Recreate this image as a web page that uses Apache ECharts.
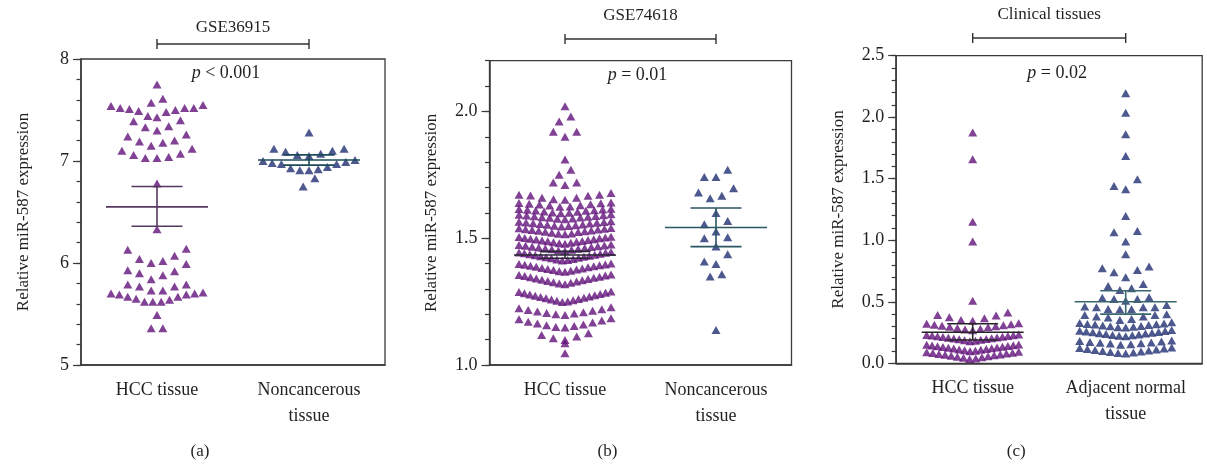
<!DOCTYPE html>
<html>
<head>
<meta charset="utf-8">
<style>
  html, body { margin: 0; padding: 0; background: #fff; }
  #main { width: 1207px; height: 466px; }
</style>
<script src="https://cdn.jsdelivr.net/npm/echarts@6/dist/echarts.min.js"></script>
</head>
<body>
<div id="main"></div>
<script>
// panel texts
const panelTitles = ['GSE36915', 'GSE74618', 'Clinical tissues']
const pTexts = ['< 0.001', '= 0.01', '= 0.02']
const panelTags = ['(a)', '(b)', '(c)']
const categories = [
  ['HCC tissue', 'Noncancerous\ntissue'],
  ['HCC tissue', 'Noncancerous\ntissue'],
  ['HCC tissue', 'Adjacent normal\ntissue']
]

// y axis ranges
const yMin = [5, 1.0, 0]
const yMax = [8, 2.2, 2.5]
const yMajor = [1, 0.5, 0.5]
const yMinor = [0.2, 0.1, 0.1]
const yDecimals = [0, 1, 1]

// values, one inner list per row of the dot plot
const hccA = [
  [7.75], [7.57, 7.61],
  [7.43, 7.44, 7.48, 7.49, 7.50, 7.51, 7.52, 7.52, 7.52, 7.54, 7.55],
  [7.30, 7.33, 7.34, 7.39, 7.40],
  [7.15, 7.18, 7.19, 7.20, 7.24, 7.26],
  [7.03, 7.03, 7.04, 7.06, 7.07, 7.10, 7.12],
  [6.78], [6.33],
  [6.00, 6.02, 6.04, 6.07, 6.13, 6.14],
  [5.84, 5.88, 5.90, 5.92, 5.93, 5.99],
  [5.73, 5.73, 5.77, 5.77, 5.79, 5.79],
  [5.62, 5.62, 5.62, 5.64, 5.65, 5.67, 5.67, 5.69, 5.69, 5.70, 5.70, 5.71],
  [5.49], [5.36, 5.36]
]
const nonA = [
  [7.28],
  [7.05, 7.06, 7.07, 7.09, 7.10, 7.12, 7.12],
  [6.91, 6.91, 6.92, 6.93, 6.94, 6.97, 6.97, 6.98, 6.99, 7.00, 7.01],
  [6.75, 6.83]
]
const hccB = [
  [2.02], [1.96, 1.98], [1.90, 1.92, 1.92], [1.81], [1.75, 1.77], [1.71, 1.72, 1.72],
  [1.652, 1.654, 1.660, 1.660, 1.667, 1.668, 1.671, 1.671, 1.678],
  [1.624, 1.625, 1.629, 1.630, 1.633, 1.634, 1.636, 1.638, 1.639, 1.641],
  [1.598, 1.600, 1.601, 1.604, 1.605, 1.608, 1.609, 1.610, 1.612, 1.613, 1.615, 1.616],
  [1.575, 1.577, 1.578, 1.581, 1.582, 1.583, 1.585, 1.587, 1.588, 1.590, 1.591, 1.593, 1.594],
  [1.546, 1.548, 1.549, 1.551, 1.553, 1.554, 1.556, 1.558, 1.559, 1.561, 1.562, 1.564, 1.565, 1.567],
  [1.516, 1.518, 1.519, 1.522, 1.524, 1.525, 1.527, 1.529, 1.530, 1.532, 1.534, 1.535, 1.537, 1.539, 1.540],
  [1.478, 1.480, 1.482, 1.484, 1.486, 1.488, 1.489, 1.491, 1.493, 1.495, 1.496, 1.498, 1.500, 1.501, 1.503, 1.505, 1.506],
  [1.450, 1.452, 1.454, 1.456, 1.458, 1.459, 1.461, 1.463, 1.465, 1.466, 1.468, 1.470, 1.471, 1.473, 1.475],
  [1.412, 1.414, 1.416, 1.418, 1.421, 1.423, 1.425, 1.427, 1.429, 1.431, 1.433, 1.435, 1.437, 1.439, 1.441, 1.443, 1.444, 1.446],
  [1.368, 1.370, 1.372, 1.375, 1.377, 1.379, 1.381, 1.383, 1.385, 1.387, 1.389, 1.391, 1.393, 1.395, 1.396, 1.398, 1.400],
  [1.318, 1.321, 1.324, 1.326, 1.329, 1.331, 1.334, 1.336, 1.339, 1.341, 1.344, 1.346, 1.348, 1.351, 1.353, 1.355, 1.357],
  [1.248, 1.250, 1.253, 1.255, 1.258, 1.260, 1.263, 1.265, 1.268, 1.270, 1.273, 1.275, 1.278, 1.280, 1.283, 1.285, 1.288, 1.290],
  [1.197, 1.200, 1.203, 1.205, 1.208, 1.211, 1.214, 1.217, 1.220, 1.224, 1.228],
  [1.148, 1.150, 1.154, 1.157, 1.160, 1.164, 1.168, 1.171, 1.175, 1.180, 1.184],
  [1.099, 1.105, 1.112, 1.118, 1.125],
  [1.086], [1.046]
]
const nonB = [
  [1.741, 1.741, 1.770],
  [1.658, 1.667, 1.680, 1.697],
  [1.599],
  [1.526, 1.555, 1.568],
  [1.467, 1.500, 1.504],
  [1.398, 1.408, 1.437],
  [1.349, 1.358],
  [1.138]
]
const hccC = [
  [1.875], [1.658], [1.151], [0.989], [0.509],
  [0.345, 0.352, 0.366, 0.374, 0.388, 0.393, 0.412],
  [0.268, 0.275, 0.281, 0.287, 0.292, 0.297, 0.301, 0.305, 0.309, 0.313, 0.318, 0.322, 0.326],
  [0.180, 0.184, 0.188, 0.191, 0.195, 0.198, 0.201, 0.204, 0.207, 0.210, 0.213, 0.216, 0.219, 0.222, 0.225, 0.228, 0.231, 0.234],
  [0.098, 0.102, 0.106, 0.110, 0.113, 0.117, 0.120, 0.123, 0.126, 0.129, 0.132, 0.135, 0.138, 0.141, 0.144, 0.147, 0.150, 0.153],
  [0.035, 0.040, 0.045, 0.050, 0.054, 0.058, 0.062, 0.066, 0.069, 0.072, 0.076, 0.080, 0.083, 0.086, 0.090, 0.093]
]
const adjC = [
  [2.195], [2.037], [1.862], [1.685], [1.415, 1.441, 1.496], [1.198],
  [0.989, 1.065, 1.076], [0.886],
  [0.699, 0.740, 0.758, 0.772, 0.786],
  [0.596, 0.610, 0.628, 0.644],
  [0.509, 0.522, 0.522, 0.533, 0.536],
  [0.439, 0.439, 0.442, 0.455, 0.455, 0.455, 0.461, 0.474],
  [0.352, 0.360, 0.372, 0.380, 0.380, 0.393, 0.393, 0.398],
  [0.290, 0.294, 0.298, 0.302, 0.304, 0.308, 0.312, 0.315, 0.318, 0.320, 0.324, 0.328, 0.333],
  [0.220, 0.224, 0.228, 0.231, 0.235, 0.238, 0.242, 0.245, 0.248, 0.252, 0.255, 0.258, 0.262, 0.265, 0.270],
  [0.150, 0.155, 0.160, 0.163, 0.167, 0.170, 0.174, 0.178, 0.182, 0.186],
  [0.080, 0.084, 0.088, 0.092, 0.096, 0.100, 0.104, 0.108, 0.112, 0.116, 0.120, 0.124, 0.128]
]
const groups = [[hccA, nonA], [hccB, nonB], [hccC, adjC]]

// mean with error bar ends: [mean, low, high] per group
const meanBars = [
  [[6.55, 6.36, 6.75], [7.01, 6.96, 7.06]],
  [[1.434, 1.421, 1.448], [1.542, 1.467, 1.619]],
  [[0.252, 0.189, 0.322], [0.50, 0.40, 0.59]]
]

const dotColors = ['#62117a', '#1f2e72']
const barColors = [['#54385f', '#1d4a58'], ['#2a2636', '#2a5664'], ['#262626', '#3a676d']]

// grid boxes of the three panels
const grids = [
  { left: 81, top: 59, width: 304, height: 306 },
  { left: 489.5, top: 60.7, width: 302, height: 304.3 },
  { left: 896.2, top: 55.7, width: 306, height: 307.6 }
]
const titleY = [28, 16, 15]
const bracketY = [44, 39, 38]
const pY = [73, 75, 73]
const pShift = [-7, -3, 8]

const fontFamily = 'Liberation Serif'
const textColor = '#231f20'
const lineColor = '#3a3a3a'

// dot plot layout: each row is spread sideways around its category
function spread(rows, cat, pxPerX) {
  const pts = []
  rows.forEach(row => {
    const vals = row.slice().sort((a, b) => a - b)
    const n = vals.length
    const d = n > 1 ? Math.min(11.7, 92 / (n - 1)) : 0
    vals.forEach((v, i) => {
      let k
      if (n % 2) k = Math.ceil(i / 2) * (i % 2 ? -1 : 1)
      else k = (Math.floor(i / 2) + 0.5) * (i % 2 ? 1 : -1)
      pts.push([cat + k * d / pxPerX, v])
    })
  })
  return pts
}

const xAxis = []
const yAxis = []
const series = []
grids.forEach((g, p) => {
  xAxis.push({
    gridIndex: p, type: 'category', data: categories[p], boundaryGap: true,
    axisLine: { onZero: false, lineStyle: { color: lineColor, width: 1.5 } },
    axisTick: { alignWithLabel: true, length: 8, lineStyle: { color: lineColor, width: 1.2 } },
    axisLabel: { interval: 0, fontFamily, fontSize: 18, color: textColor, lineHeight: 26, margin: 12 },
    splitLine: { show: false }
  })
  xAxis.push({ gridIndex: p, type: 'value', min: -0.5, max: 1.5, show: false })
  yAxis.push({
    gridIndex: p, type: 'value', min: yMin[p], max: yMax[p], interval: yMajor[p], position: 'left',
    name: 'Relative miR-587 expression', nameLocation: 'middle', nameGap: 49,
    nameTextStyle: { fontFamily, fontSize: 17, color: textColor },
    axisLine: { show: true, onZero: false, lineStyle: { color: lineColor, width: 1.5 } },
    axisTick: { length: 8, lineStyle: { color: lineColor, width: 1.2 } },
    axisLabel: {
      fontFamily, fontSize: 18, color: textColor, margin: 12, showMaxLabel: p !== 1,
      formatter: v => Number(v).toFixed(yDecimals[p])
    },
    splitLine: { show: false }
  })
  yAxis.push({
    gridIndex: p, type: 'value', min: yMin[p], max: yMax[p], interval: yMinor[p], position: 'left', offset: 0,
    axisLine: { show: false, onZero: false },
    axisTick: { length: 4.5, lineStyle: { color: lineColor, width: 1.2 } },
    axisLabel: { show: false },
    splitLine: { show: false }
  })
  const pxPerX = g.width / 2
  groups[p].forEach((rows, c) => {
    series.push({
      type: 'scatter', xAxisIndex: 2 * p + 1, yAxisIndex: 2 * p,
      symbol: 'triangle', symbolSize: [9, 8],
      itemStyle: { color: dotColors[c] },
      data: spread(rows, c, pxPerX), z: 2, silent: true
    })
  })
  series.push({
    type: 'custom', xAxisIndex: 2 * p + 1, yAxisIndex: 2 * p, z: 5, silent: true,
    data: meanBars[p].map((b, c) => [c, b[0], b[1], b[2]]),
    encode: { x: 0, y: 1 },
    renderItem(params, api) {
      const x = api.value(0)
      const pm = api.coord([x, api.value(1)])
      const pl = api.coord([x, api.value(2)])
      const ph = api.coord([x, api.value(3)])
      const style = { stroke: barColors[p][params.dataIndex], lineWidth: 1.6 }
      return {
        type: 'group', children: [
          { type: 'line', shape: { x1: pm[0] - 51, y1: pm[1], x2: pm[0] + 51, y2: pm[1] }, style },
          { type: 'line', shape: { x1: ph[0] - 25.5, y1: ph[1], x2: ph[0] + 25.5, y2: ph[1] }, style },
          { type: 'line', shape: { x1: pl[0] - 25.5, y1: pl[1], x2: pl[0] + 25.5, y2: pl[1] }, style },
          { type: 'line', shape: { x1: pm[0], y1: ph[1], x2: pm[0], y2: pl[1] }, style }
        ]
      }
    }
  })
})

const chart = echarts.init(document.getElementById('main'))
chart.setOption({
  backgroundColor: '#ffffff',
  animation: false,
  grid: grids.map(g => Object.assign({ show: true, borderColor: lineColor, borderWidth: 1.3, containLabel: false }, g)),
  xAxis, yAxis, series
})

// titles, brackets, p values and panel tags placed from the axes
const graphic = []
grids.forEach((g, p) => {
  const x0 = chart.convertToPixel({ xAxisIndex: 2 * p + 1 }, 0)
  const x1 = chart.convertToPixel({ xAxisIndex: 2 * p + 1 }, 1)
  const xm = (x0 + x1) / 2
  const ls = { stroke: '#333', lineWidth: 1.4 }
  graphic.push(
    { type: 'text', x: xm, y: titleY[p], style: { text: panelTitles[p], fontFamily, fontSize: 17, fill: textColor, align: 'center', verticalAlign: 'middle' } },
    { type: 'line', shape: { x1: x0, y1: bracketY[p], x2: x1, y2: bracketY[p] }, style: ls },
    { type: 'line', shape: { x1: x0, y1: bracketY[p] - 5, x2: x0, y2: bracketY[p] + 5 }, style: ls },
    { type: 'line', shape: { x1: x1, y1: bracketY[p] - 5, x2: x1, y2: bracketY[p] + 5 }, style: ls },
    {
      type: 'text', x: g.left + g.width / 2 + pShift[p], y: pY[p],
      style: {
        text: '{i|p} ' + pTexts[p], fontFamily, fontSize: 18, fill: textColor, align: 'center', verticalAlign: 'middle',
        rich: { i: { fontFamily, fontSize: 18, fontStyle: 'italic', fill: textColor } }
      }
    },
    { type: 'text', x: xm - 33, y: 452, style: { text: panelTags[p], fontFamily, fontSize: 17, fill: textColor, align: 'center', verticalAlign: 'middle' } }
  )
})
chart.setOption({ graphic })
</script>
</body>
</html>
